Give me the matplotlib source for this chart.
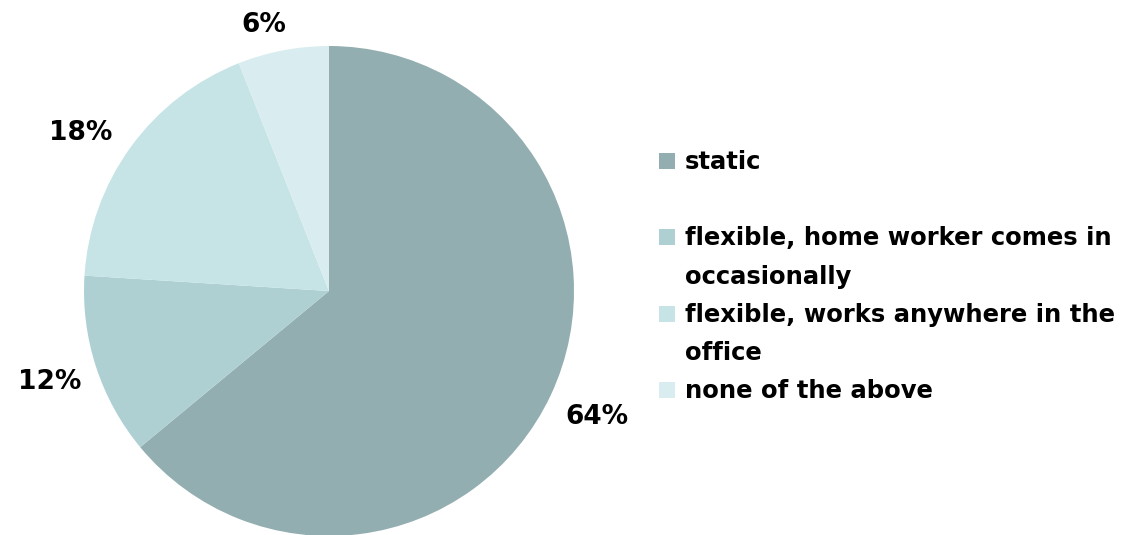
import numpy as np
import matplotlib.pyplot as plt
from matplotlib.patches import Rectangle

# ---- data ----
categories = ['static', 'flexible, home worker comes in\noccasionally',
              'flexible, works anywhere in the\noffice', 'none of the above']
shares = [64, 12, 18, 6]
colors = ['#93aeb0', '#aed0d3', '#c6e4e6', '#d9edf0']

plt.rcParams['font.family'] = 'DejaVu Sans'

fig = plt.figure(figsize=(11.25, 5.35), dpi=100)
W, H = 1125, 535

# pie axes: 490 px square, centred at (329, 291) px from top-left
ax = fig.add_axes([84 / W, (H - 536) / H, 490 / W, 490 / H])
wedges, _ = ax.pie(shares, colors=colors, startangle=90, counterclock=False,
                   radius=1.0, wedgeprops=dict(linewidth=0))
ax.set_xlim(-1, 1)
ax.set_ylim(-1, 1)
ax.set_aspect('equal')
ax.axis('off')

# percent labels just outside each slice
dist = [1.21, 1.2, 1.2, 1.12]
offs = [0, 0, 3.5, 3]
for w, v, d, o in zip(wedges, shares, dist, offs):
    ang = np.deg2rad((w.theta1 + w.theta2) / 2 + o)
    ax.text(d * np.cos(ang), d * np.sin(ang), '%d%%' % v, ha='center', va='center',
            fontsize=19, fontweight='bold', clip_on=False)

# legend, drawn by hand: one line slot every 38 px, slot 1 left empty
pitch = 38.2
top = 162
slots = [0, 2, 4, 6]
for s, lab, c in zip(slots, categories, colors):
    y0 = top + s * pitch
    fig.patches.append(Rectangle((659 / W, (H - y0 - 7) / H), 16 / W, 16 / H,
                                 transform=fig.transFigure, color=c, lw=0))
    for k, line in enumerate(lab.split('\n')):
        y = y0 + k * pitch
        fig.text(685 / W, (H - y - 7) / H, line, ha='left', va='baseline',
                 fontsize=17.5, fontweight='bold')

fig.savefig('out.png', dpi=100)
